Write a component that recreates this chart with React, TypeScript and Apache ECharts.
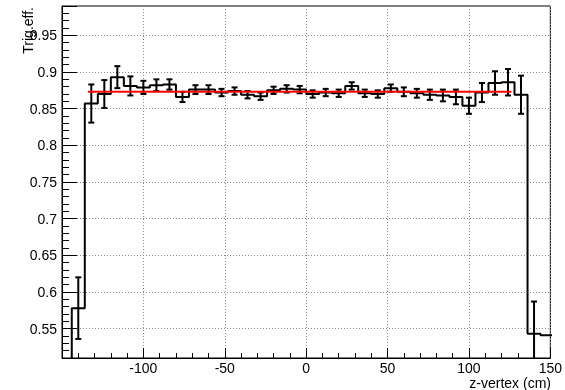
import React, { useEffect, useRef } from 'react';
import * as echarts from 'echarts';

// Bin centres (cm), bin width 8 cm
const binCenters = [
  -148, -140, -132, -124, -116, -108, -100, -92, -84, -76, -68, -60, -52, -44, -36, -28, -20, -12, -4,
  4, 12, 20, 28, 36, 44, 52, 60, 68, 76, 84, 92, 100, 108, 116, 124, 132, 140, 148,
];
const binWidth = 8;
// Trigger efficiency per bin
const effValues = [
  0, 0.578, 0.857, 0.870, 0.893, 0.881, 0.879, 0.882, 0.883, 0.866, 0.876, 0.876, 0.872, 0.874, 0.869, 0.867, 0.875, 0.877, 0.876,
  0.870, 0.872, 0.871, 0.881, 0.871, 0.870, 0.878, 0.873, 0.871, 0.869, 0.868, 0.866, 0.854, 0.872, 0.885, 0.886, 0.869, 0.543, 0.541,
];
// Statistical errors per bin
const effErrors = [
  0, 0.042, 0.026, 0.019, 0.015, 0.013, 0.009, 0.008, 0.007, 0.007, 0.006, 0.006, 0.005, 0.005, 0.005, 0.005, 0.005, 0.005, 0.005,
  0.005, 0.005, 0.005, 0.005, 0.005, 0.005, 0.005, 0.006, 0.006, 0.007, 0.008, 0.010, 0.011, 0.013, 0.016, 0.018, 0.026, 0.044, 0,
];
// Constant fit (pol0)
const fitRange = [-134, 126];
const fitValue = 0.873;

const xTicksLabelled = [-100, -50, 0, 50, 100, 150];

const FONT = "'Liberation Sans', Arial, Helvetica, sans-serif";

export default function App() {
  const ref = useRef<HTMLDivElement>(null);
  useEffect(() => {
    if (!ref.current) return;
    const chart = echarts.init(ref.current, undefined, { renderer: 'svg' });

    const stepData: number[][] = binCenters.map((c, i) => [c - binWidth / 2, effValues[i]]);
    stepData.push([binCenters[binCenters.length - 1] + binWidth / 2, effValues[effValues.length - 1]]);
    const errData = binCenters.map((c, i) => [c, effValues[i], effErrors[i]]);
    const fitData = [
      [fitRange[0], fitValue],
      [fitRange[1], fitValue],
    ];

    const gridLine = { show: true, lineStyle: { color: '#888', width: 1, type: [1, 2] as any } };

    chart.setOption({
      animation: false,
      grid: { left: 62, right: 13, top: 6, bottom: 32, show: true, borderColor: '#000', borderWidth: 1 },
      xAxis: {
        type: 'value',
        position: 'bottom',
        min: -150,
        max: 150,
        interval: 50,
        axisLine: { show: true, onZero: false, lineStyle: { color: '#000', width: 1 } },
        axisTick: { show: true, inside: true, length: 10, lineStyle: { color: '#000', width: 1 } },
        minorTick: { show: true, splitNumber: 5, length: 5, lineStyle: { color: '#000', width: 1 } },
        axisLabel: {
          show: true,
          showMinLabel: true,
          showMaxLabel: true,
          fontFamily: FONT,
          fontSize: 14,
          color: '#000',
          margin: 3,
          formatter: (v: number) => (xTicksLabelled.includes(Math.round(v)) ? String(Math.round(v)) : ''),
        },
        splitLine: gridLine,
      },
      yAxis: [
        {
          type: 'value',
          position: 'left',
          offset: 0,
          min: 0.51,
          max: 0.99,
          interval: 0.01,
          axisLine: { show: true, onZero: false, lineStyle: { color: '#000', width: 1 } },
          axisTick: { show: true, inside: true, length: 7, lineStyle: { color: '#000', width: 1 } },
          axisLabel: { show: false },
          splitLine: { show: false },
        },
        {
          type: 'value',
          position: 'left',
          offset: 0,
          min: 0.51,
          max: 0.99,
          splitNumber: 10,
          minInterval: 0.05,
          maxInterval: 0.05,
          axisLine: { show: false, onZero: false },
          axisTick: { show: true, inside: true, length: 15, lineStyle: { color: '#000', width: 1 } },
          axisLabel: {
            show: true,
            showMinLabel: true,
            showMaxLabel: true,
            fontFamily: FONT,
            fontSize: 14,
            color: '#000',
            margin: 5,
            formatter: (v: number) => {
              const k = v * 20;
              return Math.abs(k - Math.round(k)) < 1e-6 ? String(Math.round(v * 100) / 100) : '';
            },
          },
          splitLine: gridLine,
        },
      ],
      graphic: [
        {
          type: 'text',
          x: 551,
          y: 383,
          style: {
            text: 'z-vertex (cm)',
            font: `14px ${FONT}`,
            fill: '#000',
            align: 'right',
            verticalAlign: 'middle',
          },
        },
        {
          type: 'text',
          x: 28,
          y: 7,
          rotation: Math.PI / 2,
          style: {
            text: 'Trig.eff.',
            font: `14px ${FONT}`,
            fill: '#000',
            align: 'right',
            verticalAlign: 'middle',
          },
        },
      ],
      series: [
        {
          type: 'line',
          step: 'end',
          xAxisIndex: 0,
          yAxisIndex: 0,
          data: stepData,
          showSymbol: false,
          symbol: 'none',
          clip: true,
          lineStyle: { color: '#000', width: 2 },
          z: 3,
        },
        {
          type: 'custom',
          xAxisIndex: 0,
          yAxisIndex: 0,
          data: errData,
          clip: true,
          encode: { x: 0, y: 1 },
          z: 4,
          renderItem: (params: any, api: any) => {
            const x = api.value(0);
            const y = api.value(1);
            const e = api.value(2);
            if (!e) return null;
            const top = api.coord([x, y + e]);
            const bot = api.coord([x, y - e]);
            const cap = 3;
            const st = { stroke: '#000', lineWidth: 2 };
            return {
              type: 'group',
              children: [
                { type: 'line', shape: { x1: top[0], y1: top[1], x2: bot[0], y2: bot[1] }, style: st },
                { type: 'line', shape: { x1: top[0] - cap, y1: top[1], x2: top[0] + cap, y2: top[1] }, style: st },
                { type: 'line', shape: { x1: bot[0] - cap, y1: bot[1], x2: bot[0] + cap, y2: bot[1] }, style: st },
              ],
            };
          },
        },
        {
          type: 'line',
          xAxisIndex: 0,
          yAxisIndex: 0,
          data: fitData,
          showSymbol: false,
          symbol: 'none',
          clip: true,
          lineStyle: { color: '#ff0000', width: 2 },
          z: 5,
        },
      ],
    });
    return () => chart.dispose();
  }, []);
  return <div ref={ref} style={{ position: 'fixed', left: 0, top: 0, width: 565, height: 390 }} />;
}
